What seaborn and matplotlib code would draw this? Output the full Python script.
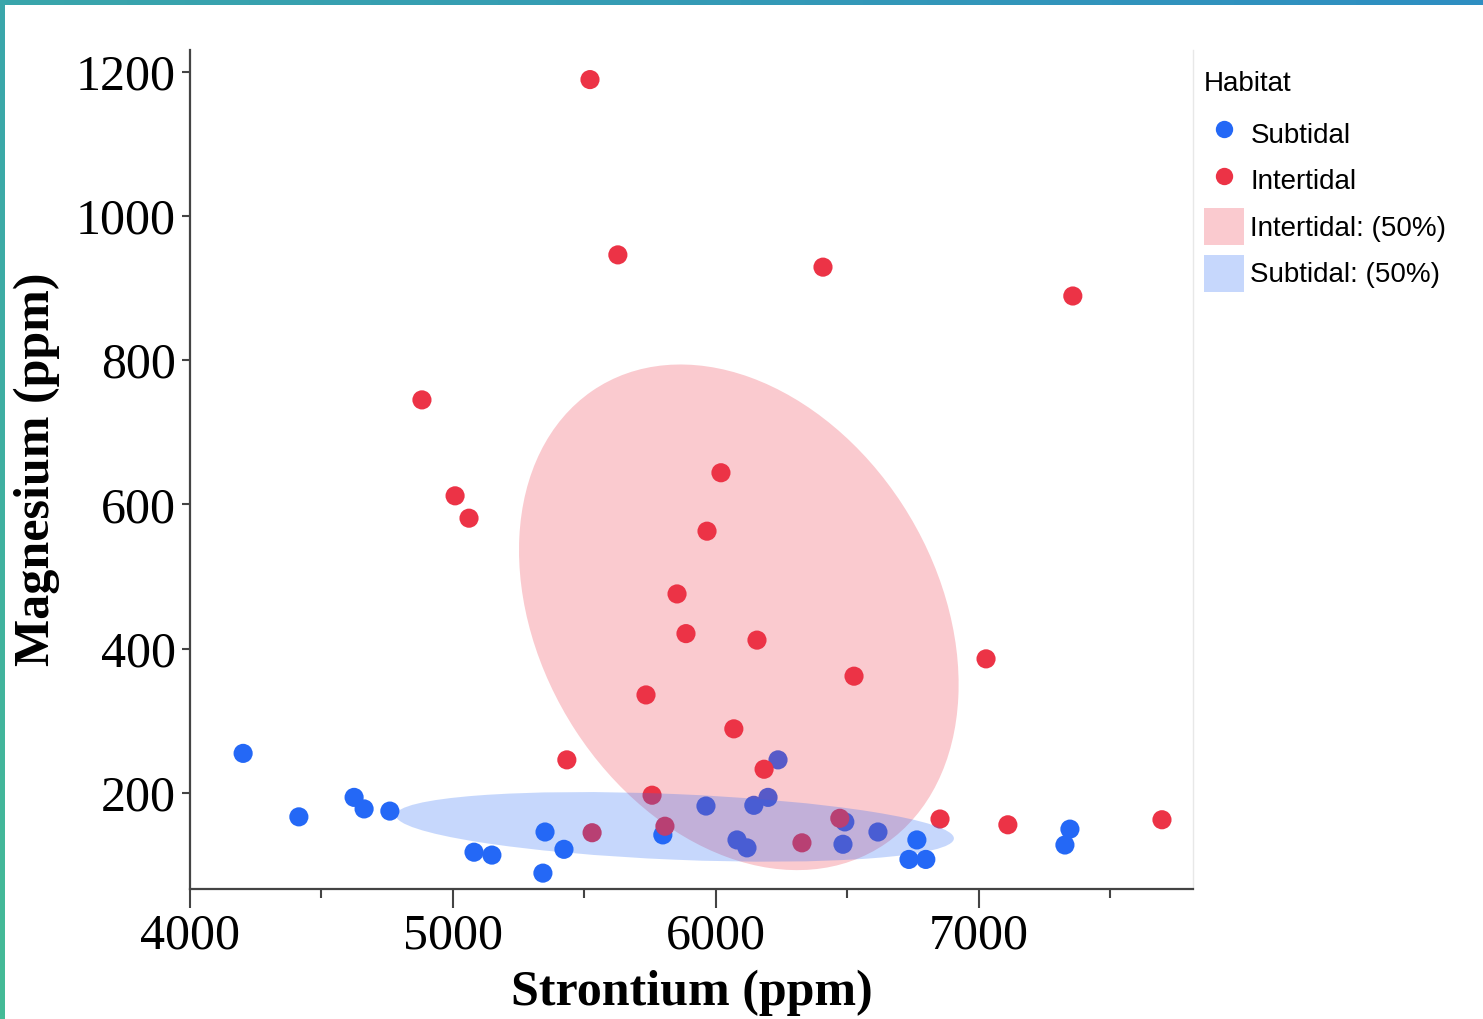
import numpy as np
import pandas as pd
import matplotlib.pyplot as plt
import seaborn as sns
from matplotlib.patches import Ellipse, Patch
from matplotlib.lines import Line2D
from matplotlib.colors import LinearSegmentedColormap

# strontium / magnesium (ppm)
sr_subtidal = [4202, 4414, 4624, 4662, 4760, 5080, 5148, 5342, 5350, 5422,
               5798, 5962, 6080, 6118, 6144, 6198, 6236, 6490, 6483, 6616,
               6764, 6734, 6798, 7346, 7327]
mg_subtidal = [255, 167, 194, 178, 175, 118, 114, 89, 146, 122,
               142, 182, 135, 124, 183, 194, 246, 160, 129, 146,
               135, 108, 108, 150, 128]
sr_intertidal = [5521, 5627, 6407, 7357, 4882, 5008, 5061, 6019, 5966, 5852,
                 5886, 6156, 6525, 7027, 5734, 6068, 5433, 6183, 5757, 5806,
                 5529, 6471, 6327, 6852, 7110, 7696]
mg_intertidal = [1189, 946, 929, 889, 745, 612, 581, 644, 563, 476,
                 421, 412, 362, 386, 336, 289, 246, 233, 197, 154,
                 145, 165, 131, 164, 156, 163]

habitats = ["Subtidal", "Intertidal"]
x_ticks = [4000, 5000, 6000, 7000]
x_minor = [4500, 5500, 6500, 7500]
y_ticks = [200, 400, 600, 800, 1000, 1200]

palette = {"Subtidal": "#2468f6", "Intertidal": "#ec3346"}
ellipse_alpha = 0.26

df = pd.DataFrame({
    "Strontium": sr_subtidal + sr_intertidal,
    "Magnesium": mg_subtidal + mg_intertidal,
    "Habitat": ["Subtidal"] * len(sr_subtidal) + ["Intertidal"] * len(sr_intertidal),
})


def conf_ellipse(x, y, level, color):
    """Normal-theory ellipse holding `level` of the bivariate distribution."""
    x = np.asarray(x, float)
    y = np.asarray(y, float)
    vals, vecs = np.linalg.eigh(np.cov(x, y))
    k = np.sqrt(-2 * np.log(1 - level))
    angle = np.degrees(np.arctan2(vecs[1, 1], vecs[0, 1]))
    return Ellipse((x.mean(), y.mean()), 2 * k * np.sqrt(vals[1]),
                   2 * k * np.sqrt(vals[0]), angle=angle,
                   facecolor=color, edgecolor="none", alpha=ellipse_alpha, zorder=3)


sns.set_style("ticks")
plt.rcParams["font.family"] = ["Liberation Serif", "DejaVu Serif"]
plt.rcParams.update({"text.color": "black", "axes.labelcolor": "black"})

W, H = 1483, 1019
fig = plt.figure(figsize=(W / 100, H / 100), dpi=100)
ax = fig.add_axes([190 / W, 1 - 889 / H, (1193 - 190) / W, (889 - 50) / H])

sns.scatterplot(data=df, x="Strontium", y="Magnesium", hue="Habitat",
                hue_order=habitats, palette=palette, s=190, linewidth=0,
                legend=False, ax=ax, zorder=2)

ax.add_patch(conf_ellipse(sr_intertidal, mg_intertidal, 0.5, palette["Intertidal"]))
ax.add_patch(conf_ellipse(sr_subtidal, mg_subtidal, 0.5, palette["Subtidal"]))

ax.set_xlim(4000, 7814)
ax.set_ylim(67, 1230)
ax.set_xticks(x_ticks)
ax.set_xticks(x_minor, minor=True)
ax.set_yticks(y_ticks)
ax.tick_params(axis="x", which="major", length=14, width=1.5, pad=3,
               labelsize=36, color="#444444", labelcolor="black")
ax.tick_params(axis="x", which="minor", length=6.5, width=1.5, color="#444444")
ax.tick_params(axis="y", which="major", length=6, width=1.5, pad=4,
               labelsize=36, color="#444444", labelcolor="black")

for side in ["left", "bottom"]:
    ax.spines[side].set_color("#444444")
    ax.spines[side].set_linewidth(1.6)
ax.spines["top"].set_visible(False)
ax.spines["right"].set_color("#e8e8e8")
ax.spines["right"].set_linewidth(1)

ax.set_xlabel("Strontium (ppm)", fontsize=36, fontweight="bold")
ax.set_ylabel("Magnesium (ppm)", fontsize=36, fontweight="bold")
ax.xaxis.set_label_coords(0.5, -0.124)
ax.xaxis.label.set_va("center")
ax.yaxis.set_label_coords(-0.1525, 0.5)
ax.yaxis.label.set_va("center")

handles = [
    Line2D([], [], marker="o", ls="none", markersize=12.5, markeredgewidth=0,
           markerfacecolor=palette["Subtidal"], label="Subtidal"),
    Line2D([], [], marker="o", ls="none", markersize=12.5, markeredgewidth=0,
           markerfacecolor=palette["Intertidal"], label="Intertidal"),
    Patch(facecolor=palette["Intertidal"], alpha=ellipse_alpha, edgecolor="none",
          label="Intertidal: (50%)"),
    Patch(facecolor=palette["Subtidal"], alpha=ellipse_alpha, edgecolor="none",
          label="Subtidal: (50%)"),
]
leg = fig.legend(handles=handles, title="Habitat", loc="upper left",
                 bbox_to_anchor=(1204 / W, 1 - 71 / H), frameon=False, borderpad=0,
                 borderaxespad=0, alignment="left", handlelength=1.45,
                 handleheight=1.67, handletextpad=0.22, labelspacing=0.34,
                 prop={"family": "Liberation Sans", "size": 20},
                 title_fontproperties={"family": "Liberation Sans", "size": 20})
# a bit more room between the title and the first entry
leg._legend_box.sep = 13.3

# screenshot frame: gradient strips along the top and left edges
top_cmap = LinearSegmentedColormap.from_list("top", ["#3aa6ab", "#2e8ec2"])
left_cmap = LinearSegmentedColormap.from_list("left", ["#3aa6ab", "#45bb96"])
top_ax = fig.add_axes([0, 1 - 5 / H, 1, 5 / H])
top_ax.imshow(np.linspace(0, 1, 256)[None, :], cmap=top_cmap, aspect="auto")
top_ax.axis("off")
left_ax = fig.add_axes([0, 0, 5 / W, 1])
left_ax.imshow(np.linspace(0, 1, 256)[:, None], cmap=left_cmap, aspect="auto")
left_ax.axis("off")

fig.savefig("out.png", dpi=100)
